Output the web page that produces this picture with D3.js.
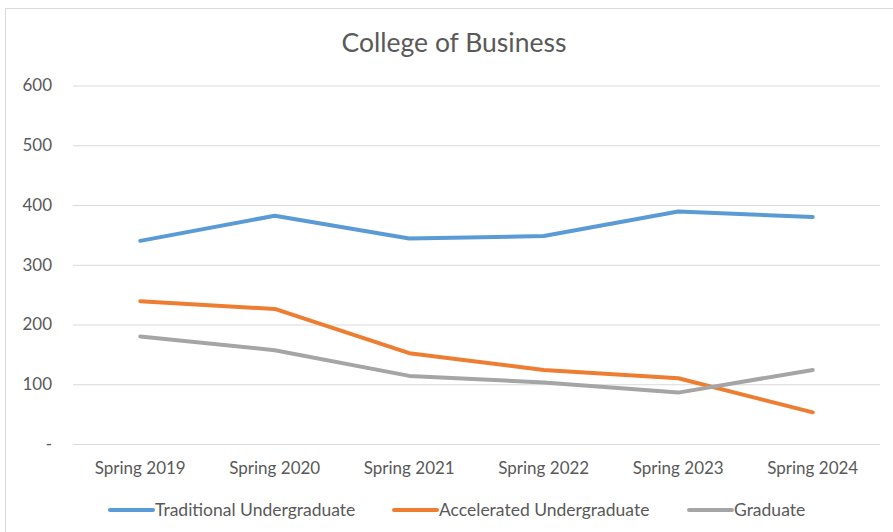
<!DOCTYPE html>
<html><head><meta charset="utf-8">
<script src="https://cdn.jsdelivr.net/npm/d3@7"></script>
<style>body{margin:0;background:#fff;} svg{display:block;}</style>
</head><body>
<script>
const categories = ["Spring 2019","Spring 2020","Spring 2021","Spring 2022","Spring 2023","Spring 2024"];
const traditional = [340, 382, 344, 348, 389, 380];
const accelerated = [239, 226, 152, 124, 110, 53];
const graduate = [180, 157, 114, 103, 86, 124];
const seriesNames = ["Traditional Undergraduate","Accelerated Undergraduate","Graduate"];
const yTicks = [0,100,200,300,400,500,600];

const W = 893, H = 532;
const font = "Lato, 'Open Sans', sans-serif";
const svg = d3.select("body").append("svg").attr("width", W).attr("height", H);
svg.append("rect").attr("x",5.5).attr("y",8.5).attr("width",W+10).attr("height",H+10)
  .attr("fill","#fff").attr("stroke","#d9d9d9");

const x = d3.scaleBand().domain(categories).range([73, 880]);
const y = d3.scaleLinear().domain([0,600]).range([444, 85.5]);

svg.append("text").attr("x",454).attr("y",52).attr("text-anchor","middle")
  .attr("font-family",font).attr("font-size",26.5).attr("fill","#595959").text("College of Business");

const yAxis = svg.append("g").attr("transform","translate(73,0)")
  .call(d3.axisLeft(y).tickValues(yTicks).tickSize(-(880-73)).tickFormat(d => d===0 ? "-" : d));
yAxis.select(".domain").remove();
yAxis.selectAll("line").attr("stroke","#d9d9d9").attr("stroke-width",1);
yAxis.selectAll("text").attr("x",-21).attr("font-family",font).attr("font-size",17).attr("fill","#595959");

const xAxis = svg.append("g").attr("transform","translate(0,444)")
  .call(d3.axisBottom(x).tickSize(0));
xAxis.select(".domain").remove();
xAxis.selectAll("text").attr("dy",0).attr("y",30).attr("font-family",font).attr("font-size",17).attr("fill","#595959");

const colors = ["#5b9bd5","#ed7d31","#a5a5a5"];
const data = [traditional, accelerated, graduate];
const line = d3.line().x((d,i) => x(categories[i]) + x.bandwidth()/2).y(d => y(d));
data.forEach((s,k) => {
  svg.append("path").attr("d", line(s)).attr("fill","none").attr("stroke",colors[k])
    .attr("stroke-width",4).attr("stroke-linecap","round").attr("stroke-linejoin","round");
});

const legX = [110, 394, 689];
seriesNames.forEach((n,k) => {
  const g = svg.append("g").attr("transform",`translate(${legX[k]},510)`);
  g.append("line").attr("x1",0).attr("x2",43).attr("y1",0).attr("y2",0)
    .attr("stroke",colors[k]).attr("stroke-width",4).attr("stroke-linecap","round");
  g.append("text").attr("x",45).attr("y",0).attr("dy","0.35em").attr("font-family",font)
    .attr("font-size",17.5).attr("fill","#595959").text(n);
});
</script>
</body></html>
